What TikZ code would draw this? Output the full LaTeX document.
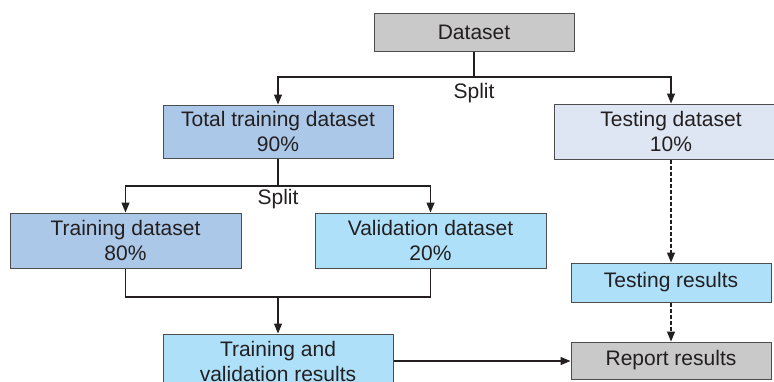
\documentclass[tikz,border=0pt]{standalone}
\usepackage{fontspec}
\setmainfont{Liberation Sans}
\usetikzlibrary{arrows.meta}
\definecolor{boxgray}{HTML}{C9C9C9}
\definecolor{boxblue}{HTML}{ABC8E8}
\definecolor{boxcyan}{HTML}{AEE1F9}
\definecolor{boxpale}{HTML}{DFE6F3}
\definecolor{ink}{HTML}{231F20}
\definecolor{rim}{HTML}{4D4D4D}
\begin{document}
\begin{tikzpicture}[x=0.5pt,y=-0.5pt,
  every node/.style={font=\fontsize{10.5}{12.5}\selectfont, text=ink},
  box/.style={draw=rim, line width=0.5pt, inner sep=0pt, align=center},
  flow/.style={draw=ink, line width=0.6pt, -{Triangle[length=5pt,width=4pt]}},
  link/.style={draw=ink, line width=0.6pt},
  dotflow/.style={flow, dash pattern=on 2pt off 1pt}]
\useasboundingbox (0,0) rectangle (774,381);
\clip (0,0) rectangle (774,381);

% boxes
\node[box, fill=boxgray, minimum width=100pt, minimum height=19pt] (ds) at (474,32) {Dataset};
\node[box, fill=boxblue, minimum width=115pt, minimum height=26.5pt] (tot) at (278,131.5) {Total training dataset\\90\%};
\node[box, fill=boxpale, minimum width=117pt, minimum height=27.5pt] (test) at (671,131.5) {Testing dataset\\10\%};
\node[box, fill=boxblue, minimum width=115.5pt, minimum height=27.5pt] (tr) at (125.5,240.5) {Training dataset\\80\%};
\node[box, fill=boxcyan, minimum width=115.5pt, minimum height=27.5pt] (va) at (430.5,240.5) {Validation dataset\\20\%};
\node[box, fill=boxcyan, minimum width=115pt, minimum height=27pt] (tv) at (278,361) {Training and\\validation results};
\node[box, fill=boxcyan, minimum width=100pt, minimum height=19.5pt] (tres) at (671,282.5) {Testing results};
\node[box, fill=boxgray, minimum width=100pt, minimum height=18.5pt] (rep) at (671,360.5) {Report results};

% first split
\coordinate (s1) at (474,77);
\draw[link] (ds.south) -- (s1);
\draw[flow] (s1) -| (tot.north);
\draw[flow] (s1) -| (test.north);
\node (split1) at (474,93) {Split};

% second split
\coordinate (s2) at (278,186);
\draw[link] (tot.south) -- (s2);
\draw[flow] (s2) -| (tr.north);
\draw[flow] (s2) -| (va.north);
\node (split2) at (278,199) {Split};

% merge of training and validation
\coordinate (m) at (278,297);
\draw[link] (tr.south) |- (m) -| (va.south);
\draw[flow] (m) -- (tv.north);
\draw[flow] (tv.east) -- (tv.east -| rep.west);

% testing branch
\draw[dotflow] (test.south) -- (tres.north);
\draw[dotflow] (tres.south) -- (rep.north);
\end{tikzpicture}
\end{document}
